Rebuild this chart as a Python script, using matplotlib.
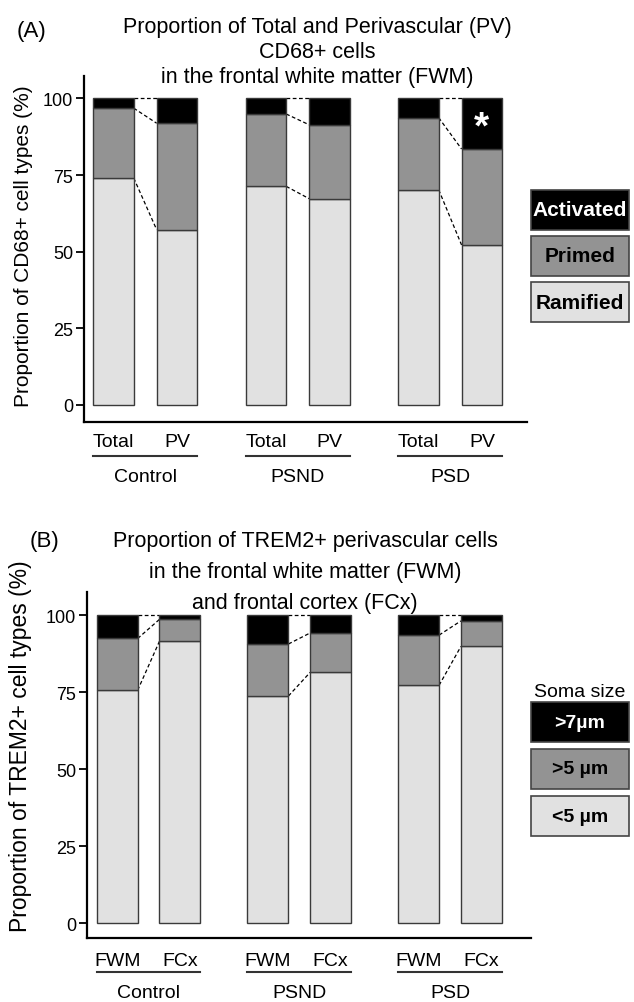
import numpy as np
import matplotlib
matplotlib.use('Agg')
import matplotlib.pyplot as plt
from matplotlib.patches import Rectangle

plt.rcParams['font.family'] = ['Liberation Sans', 'DejaVu Sans']

groups = ['Control', 'PSND', 'PSD']

# --- panel A: CD68+ cells, total vs perivascular (FWM) ---
a_sub = ['Total', 'PV']
a_ramified = [74.0, 57.2, 71.3, 67.3, 70.2, 52.2]
a_primed = [22.8, 34.7, 23.6, 24.1, 23.5, 31.3]
a_activated = [3.2, 8.1, 5.1, 8.6, 6.3, 16.5]
a_legend = ['Activated', 'Primed', 'Ramified']

# --- panel B: TREM2+ perivascular cells, FWM vs FCx ---
b_sub = ['FWM', 'FCx']
b_small = [75.7, 91.6, 73.8, 81.5, 77.3, 89.9]
b_mid = [16.8, 7.1, 16.9, 12.8, 16.3, 8.3]
b_large = [7.5, 1.3, 9.3, 5.7, 6.4, 1.8]
b_legend = ['>7µm', '>5 µm', '<5 µm']

COLS = ['#e1e1e1', '#939393', '#000000']   # bottom -> top
EDGE = '#3a3a3a'
W, H = 634, 1003


def fx(px):
    return px / W


def fy(py):
    return 1 - py / H


def draw_panel(ax, layers, sub, width, ax_h_px, lab_off):
    x = np.array([g * 2.4 + i for g in range(3) for i in range(2)], dtype=float)
    bottom = np.zeros(6)
    levels = []
    for vals, c in zip(layers, COLS):
        vals = np.array(vals)
        ax.bar(x, vals, width, bottom=bottom, color=c, edgecolor=EDGE,
               linewidth=1.0, zorder=3)
        bottom = bottom + vals
        levels.append(bottom.copy())

    # dashed connectors between paired bars
    for g in range(3):
        i0, i1 = 2 * g, 2 * g + 1
        for lev in levels:
            ax.plot([x[i0] + width / 2, x[i1] - width / 2], [lev[i0], lev[i1]],
                    ls=(0, (3, 2)), color='k', lw=0.9, zorder=2)

    for s in ['top', 'right']:
        ax.spines[s].set_visible(False)
    for s in ['left', 'bottom']:
        ax.spines[s].set_linewidth(1.6)
    ax.set_yticks([0, 25, 50, 75, 100])
    ax.tick_params(axis='y', length=6, width=1.3, labelsize=13, pad=1.5)
    ax.set_xticks([])

    tr = ax.get_xaxis_transform()
    for k, xx in enumerate(x):
        ax.text(xx, -lab_off / ax_h_px, sub[k % 2], transform=tr,
                ha='center', va='center', fontsize=14)
    for g in range(3):
        x0 = x[2 * g] - width / 2
        x1 = x[2 * g + 1] + width / 2
        ax.plot([x0, x1], [-34 / ax_h_px] * 2, transform=tr, color='#333333',
                lw=1.5, clip_on=False)
        ax.text((x0 + x1) / 2, -55 / ax_h_px, groups[g], transform=tr,
                ha='center', va='center', fontsize=14)
    return x


fig = plt.figure(figsize=(W / 100, H / 100), dpi=100)

# ---------------- panel A ----------------
axA = fig.add_axes([fx(83.7), fy(422.7), fx(527) - fx(83.7), (422.7 - 77) / H])
xa = draw_panel(axA, [a_ramified, a_primed, a_activated], a_sub, 0.64,
                422.7 - 77, 20.3)
axA.set_xlim(-0.468, 6.51)
axA.set_ylim(-5.45, 107.3)
axA.text(xa[5], 90.5, '*', color='white', fontsize=28, fontweight='bold',
         ha='center', va='center', zorder=5)

fig.text(fx(24), fy(246), 'Proportion of CD68+ cell types (%)', rotation=90,
         ha='center', va='center', fontsize=15)
fig.text(fx(17), fy(31), '(A)', ha='left', va='center', fontsize=16)
for t, yy in zip(['Proportion of Total and Perivascular (PV)', 'CD68+ cells',
                  'in the frontal white matter (FWM)'], [28, 52, 77]):
    fig.text(fx(317), fy(yy), t, ha='center', va='center', fontsize=15.5)

for k, (lab, c, tc) in enumerate(zip(a_legend, COLS[::-1],
                                     ['white', 'black', 'black'])):
    y0 = 190.7 + k * 46.3
    fig.add_artist(Rectangle((fx(530.7), fy(y0 + 40)), fx(629) - fx(530.7), 40 / H,
                             transform=fig.transFigure, facecolor=c,
                             edgecolor='#444444', lw=1.2))
    fig.text(fx(580), fy(y0 + 20), lab, ha='center', va='center', fontsize=15,
             fontweight='bold', color=tc)

# ---------------- panel B ----------------
axB = fig.add_axes([fx(86.6), fy(939), fx(531) - fx(86.6), (939 - 593.3) / H])
draw_panel(axB, [b_small, b_mid, b_large], b_sub, 0.653, 939 - 593.3, 22.7)
axB.set_xlim(-0.487, 6.59)
axB.set_ylim(-4.8, 107.5)

fig.text(fx(21), fy(746), 'Proportion of TREM2+ cell types (%)', rotation=90,
         ha='center', va='center', fontsize=16.5)
fig.text(fx(30), fy(542), '(B)', ha='left', va='center', fontsize=16)
for t, yy in zip(['Proportion of TREM2+ perivascular cells',
                  'in the frontal white matter (FWM)',
                  'and frontal cortex (FCx)'], [542, 573, 603]):
    fig.text(fx(305), fy(yy), t, ha='center', va='center', fontsize=15.5)

fig.text(fx(580), fy(693), 'Soma size', ha='center', va='center', fontsize=14)
box_y = [703, 750, 797]
for k, (lab, c, tc) in enumerate(zip(b_legend, COLS[::-1],
                                     ['white', 'black', 'black'])):
    y0 = box_y[k]
    fig.add_artist(Rectangle((fx(530.7), fy(y0 + 40)), fx(629) - fx(530.7), 40 / H,
                             transform=fig.transFigure, facecolor=c,
                             edgecolor='#444444', lw=1.2))
    fig.text(fx(580), fy(y0 + 20), lab, ha='center', va='center', fontsize=14,
             fontweight='bold', color=tc)

fig.savefig('out.png', dpi=100)
